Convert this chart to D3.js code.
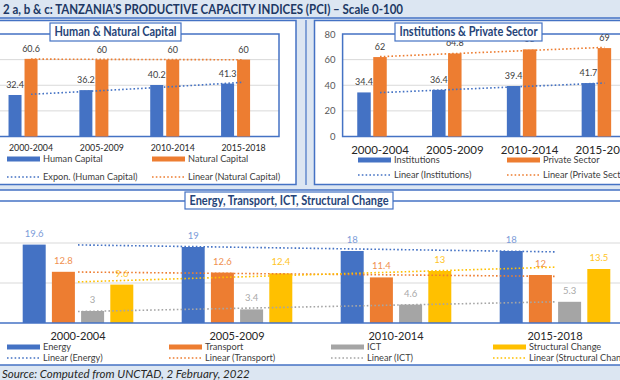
<!DOCTYPE html>
<meta charset="utf-8">
<style>
body {
  margin: 0px;
  background-color: #dce6f2;
}
svg {
  display: block;
  font-family: Lato, "Liberation Sans", sans-serif;
}
.frame {
  fill: white;
  stroke: #4472c4;
  stroke-width: 1.5px;
}
.grid line {
  stroke: #d9d9d9;
  stroke-width: 1px;
}
.trend {
  fill: none;
  stroke-width: 1.6px;
  stroke-dasharray: 1.6, 2.2;
}
.legend text {
  font-size: 9.2px;
  fill: #404040;
}
</style>
<svg width="620" height="380"></svg>
<script src="https://cdn.jsdelivr.net/npm/d3@7"></script>
<script>

// ---- data ----
var periods = ["2000-2004", "2005-2009", "2010-2014", "2015-2018"];

var humanCapital = [32.4, 36.2, 40.2, 41.3];
var naturalCapital = [60.6, 60, 60, 60];

var institutions = [34.4, 36.4, 39.4, 41.7];
var privateSector = [62, 64.8, 68, 69];

var energy = [19.6, 19, 18, 18];
var transport = [12.8, 12.6, 11.4, 12];
var ict = [3, 3.4, 4.6, 5.3];
var structuralChange = [9.6, 12.4, 13, 13.5];

var topTicks = [0, 20, 40, 60, 80];
var bottomTicks = [10, 20];

var blue = "#4472c4", orange = "#ed7d31", grey = "#a5a5a5", yellow = "#ffc000";

var svg = d3.select("svg");

// excel style trendlines, fitted at x = 1..n
function linearFit(v) {
  var n = v.length, mx = (n + 1) / 2, my = d3.mean(v), sxy = 0, sxx = 0;
  v.forEach(function(d, i) { sxy += (i + 1 - mx) * (d - my); sxx += (i + 1 - mx) * (i + 1 - mx); });
  var b = sxy / sxx;
  return v.map(function(d, i) { return my + b * (i + 1 - mx); });
}
function expFit(v) {
  return linearFit(v.map(Math.log)).map(Math.exp);
}

// ---- background frames ----
svg.append("line")
    .attr("x1", 0).attr("x2", 620).attr("y1", 18).attr("y2", 18)
    .attr("stroke", blue).attr("stroke-width", 1.5);

svg.append("text")
    .attr("x", 3).attr("y", 14)
    .attr("font-size", 13).attr("font-weight", "bold")
    .attr("fill", "#203864")
    .attr("textLength", 400).attr("lengthAdjust", "spacingAndGlyphs")
    .text("2 a, b & c: TANZANIA\u2019S PRODUCTIVE CAPACITY INDICES (PCI) \u2013 Scale 0-100");

svg.append("rect").attr("class", "frame").attr("x", -2).attr("y", 20.5).attr("width", 298).attr("height", 164);
svg.append("rect").attr("class", "frame").attr("x", 314.5).attr("y", 20.5).attr("width", 310).attr("height", 164);
svg.append("line")
    .attr("x1", 306).attr("x2", 306).attr("y1", 20).attr("y2", 185)
    .attr("stroke", blue).attr("stroke-width", 1.2);
svg.append("rect").attr("class", "frame").attr("x", -2).attr("y", 190).attr("width", 625).attr("height", 175);

svg.append("text")
    .attr("x", 2).attr("y", 378)
    .attr("font-size", 11.5).attr("font-style", "italic")
    .attr("fill", "#262626")
    .text("Source: Computed from UNCTAD, 2 February, 2022");

function titleBox(g, x, y, w, h, tw, text) {
  g.append("rect")
      .attr("x", x).attr("y", y).attr("width", w).attr("height", h)
      .attr("fill", "white").attr("stroke", blue).attr("stroke-width", 1.2);
  g.append("text")
      .attr("x", x + w / 2).attr("y", y + h / 2 + 4.3)
      .attr("text-anchor", "middle")
      .attr("font-size", 12.5).attr("font-weight", "bold").attr("fill", "#264478")
      .attr("textLength", tw).attr("lengthAdjust", "spacingAndGlyphs")
      .text(text);
}

// ---- generic two series panel ----
function pairPanel(opt) {
  var x = d3.scaleBand().domain(periods).range(opt.xRange);
  var y = d3.scaleLinear().domain([0, 80]).range([136.5, 34]);
  var g = svg.append("g");
  var cx = function(p) { return x(p) + x.bandwidth() / 2; };

  g.append("g").attr("class", "grid")
    .selectAll("line")
    .data(topTicks.slice(1, 4))
    .enter().append("line")
      .attr("x1", opt.xRange[0]).attr("x2", opt.xRange[1])
      .attr("y1", function(d) { return y(d); }).attr("y2", function(d) { return y(d); });

  g.append("rect")
      .attr("x", opt.xRange[0]).attr("y", y(80))
      .attr("width", opt.xRange[1] - opt.xRange[0]).attr("height", y(0) - y(80))
      .attr("fill", "none").attr("stroke", blue).attr("stroke-width", 1.5);

  if (opt.showTicks) {
    g.selectAll(".tick")
      .data(topTicks)
      .enter().append("text")
        .attr("x", opt.xRange[0] - 7).attr("y", function(d) { return y(d) + 3.5; })
        .attr("text-anchor", "end")
        .attr("font-size", 9.5).attr("fill", "#595959")
        .text(function(d) { return d; });
  }

  opt.series.forEach(function(s, k) {
    var off = k === 0 ? -16 : 0;
    g.selectAll(".bar" + k)
      .data(s.values)
      .enter().append("rect")
        .attr("x", function(d, i) { return cx(periods[i]) + off - opt.barW / 2; })
        .attr("y", function(d) { return y(d); })
        .attr("width", opt.barW)
        .attr("height", function(d) { return y(0) - y(d); })
        .attr("fill", s.color);
    g.selectAll(".lab" + k)
      .data(s.values)
      .enter().append("text")
        .attr("x", function(d, i) { return cx(periods[i]) + off; })
        .attr("y", function(d) { return y(d) - 7; })
        .attr("text-anchor", "middle")
        .attr("font-size", 9).attr("fill", "#404040")
        .text(function(d) { return d; });
  });

  opt.series.forEach(function(s) {
    var fit = s.fit(s.values);
    g.append("path")
        .attr("class", "trend")
        .attr("stroke", s.color)
        .attr("d", d3.line()
          .curve(d3.curveMonotoneX)
          .x(function(d, i) { return cx(periods[i]); })
          .y(function(d) { return y(d); })(fit));
  });

  g.selectAll(".xlab")
    .data(periods)
    .enter().append("text")
      .attr("x", function(d) { return cx(d); })
      .attr("y", opt.xLabelY)
      .attr("text-anchor", "middle")
      .attr("font-size", opt.xLabelSize).attr("fill", "#262626")
      .text(function(d) { return d; });

  // title box sits on top of the labels, as in excel
  titleBox(g, opt.title.x, 23, opt.title.w, 18, opt.title.tw, opt.title.text);

  legend(opt.legend);
}

function legend(items) {
  var lg = svg.append("g").attr("class", "legend");
  items.forEach(function(it) {
    if (it.dotted) {
      lg.append("line")
          .attr("class", "trend")
          .attr("x1", it.x).attr("x2", it.x + 33)
          .attr("y1", it.y).attr("y2", it.y)
          .attr("stroke", it.color);
    } else {
      lg.append("rect")
          .attr("x", it.x).attr("y", it.y - 2.5)
          .attr("width", 33).attr("height", 5)
          .attr("fill", it.color);
    }
    lg.append("text")
        .attr("x", it.x + 36).attr("y", it.y + 3.2)
        .text(it.label);
  });
}

pairPanel({
  xRange: [-4.4, 279],
  barW: 13,
  showTicks: false,
  xLabelY: 151,
  xLabelSize: 8.8,
  title: {x: 50, w: 131, tw: 122, text: "Human & Natural Capital"},
  series: [
    {values: humanCapital, color: blue, fit: expFit},
    {values: naturalCapital, color: orange, fit: linearFit}
  ],
  legend: [
    {x: 7, y: 159, color: blue, label: "Human Capital"},
    {x: 152, y: 159, color: orange, label: "Natural Capital"},
    {x: 7, y: 177, color: blue, dotted: true, label: "Expon. (Human Capital)"},
    {x: 152, y: 177, color: orange, dotted: true, label: "Linear (Natural Capital)"}
  ]
});

pairPanel({
  xRange: [342.6, 641.8],
  barW: 13.5,
  showTicks: true,
  xLabelY: 153.5,
  xLabelSize: 11.5,
  title: {x: 395, w: 147, tw: 138, text: "Institutions & Private Sector"},
  series: [
    {values: institutions, color: blue, fit: linearFit},
    {values: privateSector, color: orange, fit: linearFit}
  ],
  legend: [
    {x: 358, y: 160, color: blue, label: "Institutions"},
    {x: 507, y: 160, color: orange, label: "Private Sector"},
    {x: 358, y: 175, color: blue, dotted: true, label: "Linear (Institutions)"},
    {x: 507, y: 175, color: orange, dotted: true, label: "Linear (Private Sector)"}
  ]
});

// ---- bottom panel: four series ----
var four = [
  {name: "Energy", values: energy, color: blue, label: "#7b9bd8"},
  {name: "Transport", values: transport, color: orange, label: "#f0904f"},
  {name: "ICT", values: ict, color: grey, label: "#a9a9a9"},
  {name: "Structural Change", values: structuralChange, color: yellow, label: "#ffc425"}
];

var xc = d3.scaleBand().domain(periods).range([-1.5, 634.5]),
    yc = d3.scaleLinear().domain([0, 30]).range([323, 203]),
    gc = svg.append("g");
var ccx = function(p) { return xc(p) + xc.bandwidth() / 2; };

gc.append("line")
    .attr("x1", 0).attr("x2", 620).attr("y1", 201).attr("y2", 201)
    .attr("stroke", blue).attr("stroke-width", 1.5);

gc.append("g").attr("class", "grid")
  .selectAll("line")
  .data(bottomTicks)
  .enter().append("line")
    .attr("x1", 0).attr("x2", 620)
    .attr("y1", function(d) { return yc(d); }).attr("y2", function(d) { return yc(d); });

four.forEach(function(s, k) {
  var off = (k - 1.5) * 29.2;
  gc.selectAll(".cbar" + k)
    .data(s.values)
    .enter().append("rect")
      .attr("x", function(d, i) { return ccx(periods[i]) + off - 11.5; })
      .attr("y", function(d) { return yc(d); })
      .attr("width", 23)
      .attr("height", function(d) { return yc(0) - yc(d); })
      .attr("fill", s.color);
  gc.selectAll(".clab" + k)
    .data(s.values)
    .enter().append("text")
      .attr("x", function(d, i) { return ccx(periods[i]) + off; })
      .attr("y", function(d) { return yc(d) - 8; })
      .attr("text-anchor", "middle")
      .attr("font-size", 9.5).attr("fill", s.label)
      .text(function(d) { return d; });
});

gc.append("line")
    .attr("x1", 0).attr("x2", 620).attr("y1", yc(0)).attr("y2", yc(0))
    .attr("stroke", blue).attr("stroke-width", 1.5);

four.forEach(function(s) {
  gc.append("path")
      .attr("class", "trend")
      .attr("stroke", s.color)
      .attr("d", d3.line()
        .x(function(d, i) { return ccx(periods[i]); })
        .y(function(d) { return yc(d); })(linearFit(s.values)));
});

gc.selectAll(".xlab")
  .data(periods)
  .enter().append("text")
    .attr("x", function(d) { return ccx(d); })
    .attr("y", 339.5)
    .attr("text-anchor", "middle")
    .attr("font-size", 11).attr("fill", "#262626")
    .text(function(d) { return d; });

titleBox(gc, 185, 192, 208, 17, 199, "Energy, Transport, ICT, Structural Change");

var legendX = [7, 169, 331, 493];
legend(four.map(function(s, k) {
  return {x: legendX[k], y: 347, color: s.color, label: s.name};
}).concat(four.map(function(s, k) {
  return {x: legendX[k], y: 358, color: s.color, dotted: true, label: "Linear (" + s.name + ")"};
})));

</script>
